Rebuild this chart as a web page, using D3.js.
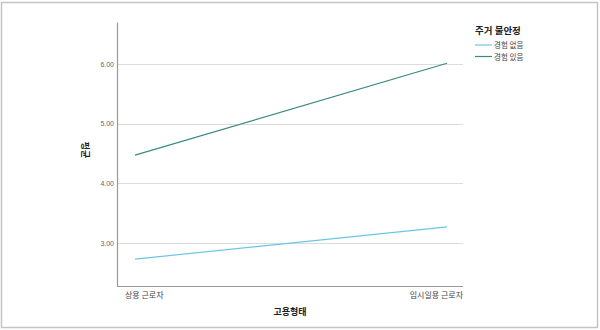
<!DOCTYPE html>
<meta charset="utf-8">
<script src="https://d3js.org/d3.v7.min.js"></script>
<style>
    body { margin: 0; background: #fff; }
    text { font-family: "Noto Sans CJK KR", "DejaVu Sans", sans-serif; }
</style>
<div id="my_dataviz"></div>
<script>

    // data
    const categories = ["상용 근로자", "임시일용 근로자"];
    const seriesNames = ["경험 없음", "경험 있음"];
    const noExperience = [2.73, 3.27];
    const withExperience = [4.47, 6.01];
    const yTicks = [3, 4, 5, 6];
    const colors = ["#6cc4ec", "#3a8a80"];

    const W = 600, H = 330;
    const margin = {top: 22, right: 137, bottom: 44, left: 117},
          width = W - margin.left - margin.right,
          height = H - margin.top - margin.bottom;

    const svg = d3.select("#my_dataviz")
                  .append("svg")
                    .attr("width", W)
                    .attr("height", H);

    // outer frame
    svg.append("rect")
        .attr("x", 1.5).attr("y", 2.5)
        .attr("width", 596).attr("height", 325)
        .style("fill", "none")
        .style("stroke", "#c4c4c4")
        .style("stroke-width", 1.5);

    const g = svg.append("g")
        .attr("transform", `translate(${margin.left},${margin.top})`);

    const y = d3.scaleLinear()
                .domain([2.28, 6.70])
                .range([height, 0]);

    const x = d3.scalePoint()
                .domain(categories)
                .range([18, width - 16]);

    // gridlines
    g.selectAll("gridLine")
        .data(yTicks)
        .join("line")
            .attr("x1", 0).attr("x2", width)
            .attr("y1", d => Math.round(y(d)) + 0.5)
            .attr("y2", d => Math.round(y(d)) + 0.5)
            .style("stroke", "#dcdcdc")
            .style("stroke-width", 1);

    // y axis
    const yAxis = g.append("g")
        .call(d3.axisLeft(y).tickValues(yTicks).tickFormat(d3.format(".2f")).tickSize(0).tickPadding(3));
    yAxis.select(".domain").style("stroke", "#999").style("stroke-width", 1.2);
    yAxis.selectAll("text")
        .style("font-size", "7px")
        .style("fill", "#666")
        .style("font-family", "'Liberation Sans', Arial, sans-serif");

    // x axis line
    g.append("line")
        .attr("x1", 0).attr("x2", width)
        .attr("y1", height + 0.5).attr("y2", height + 0.5)
        .style("stroke", "#999")
        .style("stroke-width", 1.2);

    // x category labels
    g.selectAll("xLabel")
        .data(categories)
        .join("text")
            .attr("x", (d, i) => i === 0 ? x(d) - 10 : x(d) + 16)
            .attr("y", height + 12)
            .attr("text-anchor", (d, i) => i === 0 ? "start" : "end")
            .style("font-size", "8px")
            .style("fill", "#444")
            .text(d => d);

    // axis titles
    svg.append("text")
        .attr("x", 290).attr("y", 315)
        .attr("text-anchor", "middle")
        .style("font-size", "9px")
        .style("font-weight", "bold")
        .style("fill", "#222")
        .text("고용형태");

    svg.append("text")
        .attr("transform", "translate(82,150) rotate(90)")
        .attr("text-anchor", "middle")
        .style("font-size", "9px")
        .style("font-weight", "bold")
        .style("fill", "#222")
        .text("평균");

    // lines
    const allSeries = [noExperience, withExperience];
    const line = d3.line()
        .x((d, i) => x(categories[i]))
        .y(d => y(d));

    g.selectAll("seriesPath")
        .data(allSeries)
        .join("path")
            .attr("d", line)
            .style("fill", "none")
            .style("stroke", (d, i) => colors[i])
            .style("stroke-width", 1.2);

    // legend
    const legend = svg.append("g").attr("transform", "translate(475,31)");
    legend.append("text")
        .attr("x", 0).attr("y", 3)
        .style("font-size", "9.5px")
        .style("font-weight", "bold")
        .style("fill", "#222")
        .text("주거 불안정");
    legend.selectAll("legLine")
        .data(seriesNames)
        .join("line")
            .attr("x1", 0).attr("x2", 17)
            .attr("y1", (d, i) => 14 + i * 11.5)
            .attr("y2", (d, i) => 14 + i * 11.5)
            .style("stroke", (d, i) => colors[i])
            .style("stroke-width", 1.2);
    legend.selectAll("legText")
        .data(seriesNames)
        .join("text")
            .attr("x", 19)
            .attr("y", (d, i) => 17 + i * 11.5)
            .style("font-size", "7.5px")
            .style("fill", "#444")
            .text(d => d);

</script>
